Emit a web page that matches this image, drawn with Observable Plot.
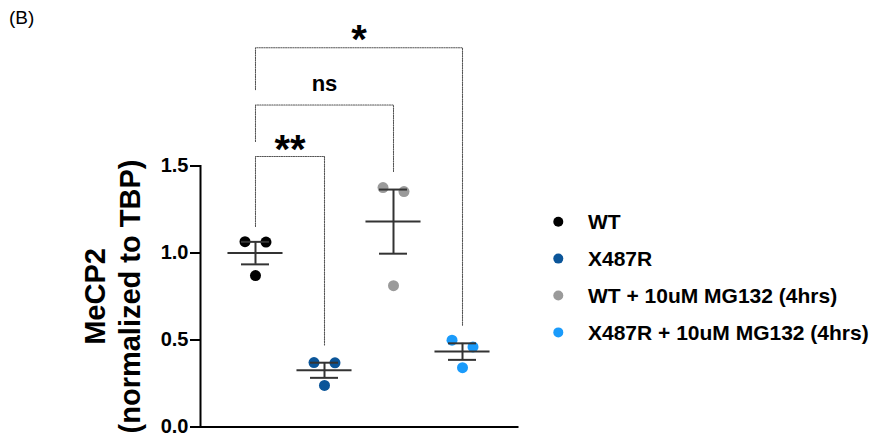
<!DOCTYPE html>
<html>
<head>
<meta charset="utf-8">
<script src="https://cdn.jsdelivr.net/npm/d3@7"></script>
<script src="https://cdn.jsdelivr.net/npm/@observablehq/plot@0.6"></script>
<style>
  html, body { margin: 0; padding: 0; background: #fff; }
  #chart { position: relative; width: 871px; height: 433px; }
  svg { display: block; }
</style>
</head>
<body>
<div id="chart"></div>
<script>
// ---------- data ----------
const groups = ["WT", "X487R", "WT + 10uM MG132 (4hrs)", "X487R + 10uM MG132 (4hrs)"];
const groupColors = ["#000000", "#0b5599", "#9a9a9a", "#1a9bfb"];
const wtValues = [1.065, 1.063, 0.870];
const x487rValues = [0.370, 0.369, 0.239];
const wtMgValues = [1.376, 1.353, 0.812];
const x487rMgValues = [0.499, 0.460, 0.341];
const yTicks = [0, 0.5, 1.0, 1.5];
const yLabel = "MeCP2\n(normalized to TBP)";
const panelLabel = "(B)";
// significance comparisons (annotation levels in y units)
const compFrom = ["WT", "WT", "WT"];
const compTo = ["X487R", "WT + 10uM MG132 (4hrs)", "X487R + 10uM MG132 (4hrs)"];
const compLabels = ["**", "ns", "*"];
const compBarLevel = [1.555, 1.851, 2.180];
const compFromEnd = [1.152, 1.641, 1.939];
const compToEnd = [0.470, 1.469, 0.585];
const compLabelLevel = [1.651, 1.968, 2.281];

// ---------- tables ----------
const seriesValues = [wtValues, x487rValues, wtMgValues, x487rMgValues];
const jitter = [-0.152, 0.152, 0]; // horizontal spread of replicate dots (x units)
const points = seriesValues.flatMap((vals, gi) =>
  vals.map((v, k) => ({group: groups[gi], gi, k, value: v})));
const summary = seriesValues.map((vals, gi) => {
  const mean = d3.mean(vals);
  const sem = d3.deviation(vals) / Math.sqrt(vals.length);
  return {group: groups[gi], gi, mean, lo: mean - sem, hi: mean + sem};
});
const brackets = compLabels.flatMap((lab, i) => {
  const a = groups.indexOf(compFrom[i]), b = groups.indexOf(compTo[i]);
  return [
    {c: i, x: a, y: compFromEnd[i]},
    {c: i, x: a, y: compBarLevel[i]},
    {c: i, x: b, y: compBarLevel[i]},
    {c: i, x: b, y: compToEnd[i]}
  ];
});
const compText = compLabels.map((lab, i) => ({
  label: lab,
  x: (groups.indexOf(compFrom[i]) + groups.indexOf(compTo[i])) / 2,
  y: compLabelLevel[i]
}));

const FONT = "'Liberation Sans', Arial, Helvetica, sans-serif";
const EB = "#333333";
const meanHalf = 0.399, capHalf = 0.203;

const plot = Plot.plot({
  width: 871,
  height: 433,
  marginLeft: 200,
  marginRight: 354,
  marginTop: 165.5,
  marginBottom: 6.5,
  style: {fontFamily: FONT, background: "#fff", overflow: "visible", color: "#000"},
  x: {type: "linear", domain: [-0.797, 3.797], axis: null},
  y: {domain: [0, 1.5]},
  color: {domain: groups, range: groupColors},
  marks: [
    // significance brackets
    Plot.line(brackets, {x: "x", y: "y", z: "c", stroke: "#555", strokeWidth: 1.1, strokeDasharray: "1.2,1.2"}),
    Plot.text(compText.filter(d => d.label !== "ns"), {x: "x", y: "y", text: "label", fontSize: 40, fontWeight: "bold", dy: 10, fill: "#000"}),
    Plot.text(compText.filter(d => d.label === "ns"), {x: "x", y: "y", text: "label", fontSize: 22, fontWeight: "bold", dy: -1, fill: "#000"}),
    // replicate dots
    Plot.dot(points, {x: d => d.gi + jitter[d.k], y: "value", fill: "group", r: 5.5, stroke: null}),
    // mean and SEM
    Plot.ruleY(summary, {y: "mean", x1: d => d.gi - meanHalf, x2: d => d.gi + meanHalf, stroke: EB, strokeWidth: 2}),
    Plot.ruleY(summary, {y: "hi", x1: d => d.gi - capHalf, x2: d => d.gi + capHalf, stroke: EB, strokeWidth: 2}),
    Plot.ruleY(summary, {y: "lo", x1: d => d.gi - capHalf, x2: d => d.gi + capHalf, stroke: EB, strokeWidth: 2}),
    Plot.ruleX(summary, {x: "gi", y1: "lo", y2: "hi", stroke: EB, strokeWidth: 2}),
    // axes
    Plot.axisY({ticks: yTicks, tickFormat: d3.format(".1f"), tickSize: 10, tickPadding: 2, fontSize: 20, fontWeight: "bold", strokeWidth: 2, stroke: "#000", fill: "#000", label: null}),
    Plot.frame({anchor: "left", stroke: "#000", strokeWidth: 2}),
    Plot.frame({anchor: "bottom", stroke: "#000", strokeWidth: 2}),
    Plot.text([yLabel], {frameAnchor: "left", text: d => d, rotate: -90, textAnchor: "middle", lineAnchor: "middle", dx: -89.5, fontSize: 29, fontWeight: "bold", lineHeight: 1.2, fill: "#000"})
  ]
});

document.getElementById("chart").appendChild(plot);

// panel label and legend (drawn into the same SVG)
const svg = d3.select(plot);
svg.append("text")
  .attr("x", 9).attr("y", 24).attr("text-anchor", "start")
  .attr("font-family", FONT).attr("font-size", 19).attr("fill", "#000")
  .text(panelLabel);

const color = plot.scale("color");
const lg = svg.append("g").attr("font-family", FONT).attr("font-size", 21).attr("font-weight", "bold").attr("text-anchor", "start");
color.domain.forEach((g, i) => {
  const y = 221.7 + i * 36.9;
  lg.append("circle").attr("cx", 558.3).attr("cy", y).attr("r", 5).attr("fill", color.range[i]);
  lg.append("text").attr("x", 588).attr("y", y).attr("dy", "0.35em").attr("fill", "#000").text(g);
});
</script>
</body>
</html>
